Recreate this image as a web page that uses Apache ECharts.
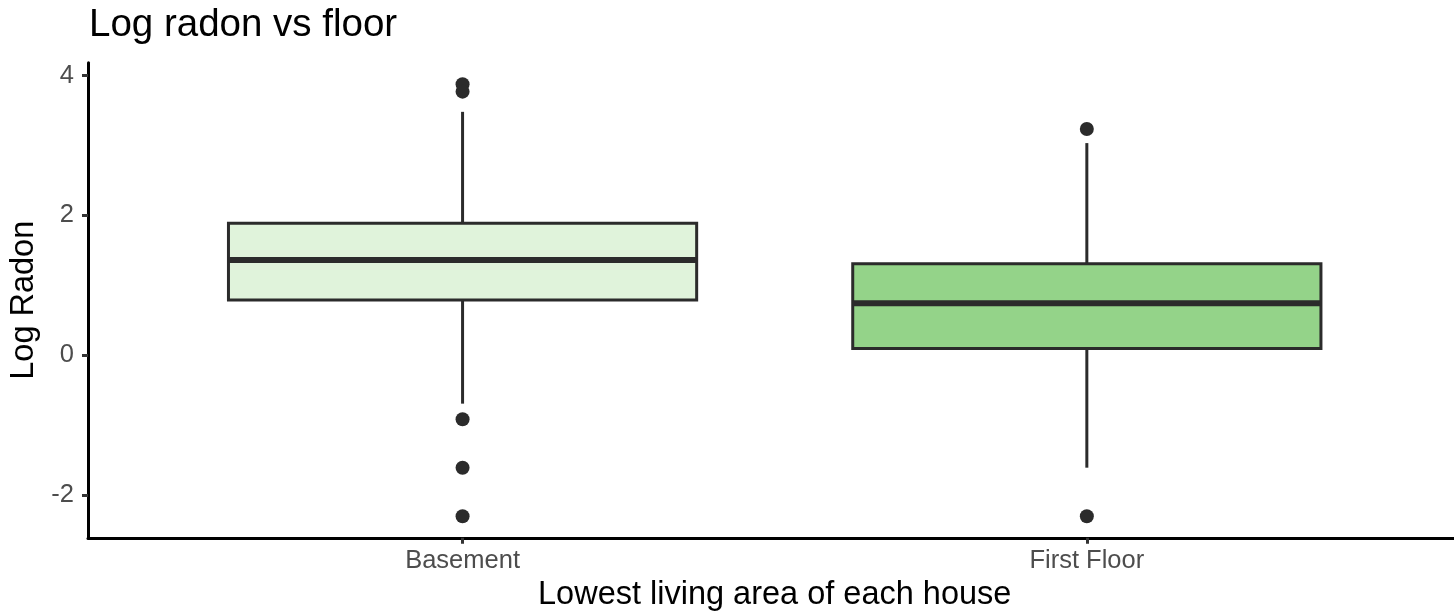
<!DOCTYPE html>
<html>
<head>
<meta charset="utf-8">
<title>Log radon vs floor</title>
<script src="https://cdn.jsdelivr.net/npm/echarts@6/dist/echarts.min.js"></script>
<style>
  html, body { margin: 0; padding: 0; background: #ffffff; }
  #chart { width: 1454px; height: 613px; }
</style>
</head>
<body>
<div id="chart"></div>
<script>
// Floor categories, in axis order
const categories = ['Basement', 'First Floor'];

// Box statistics per floor: [lower whisker, Q1, median, Q3, upper whisker]
const basementStats = [-0.693, 0.788, 1.361, 1.887, 3.481];
const firstFloorStats = [-1.609, 0.095, 0.742, 1.308, 3.034];

// Outlying observations per floor
const basementOutliers = [3.875, 3.770, -0.916, -1.609, -2.303];
const firstFloorOutliers = [3.235, -2.303];

// Tick values on the vertical axis
const yTicks = [-2, 0, 2, 4];

const boxFills = ['#e0f3db', '#94d389'];
const lineColor = '#2b2b2b';
const fontFamily = '"Liberation Sans", Arial, Helvetica, sans-serif';

const statsByFloor = [basementStats, firstFloorStats];
const outliersByFloor = [basementOutliers, firstFloorOutliers];

// Positions on the x axis: category i sits at i + 1
const boxData = statsByFloor.map((s, i) => [i + 1].concat(s));
const outlierData = [];
outliersByFloor.forEach((vals, i) => {
  vals.forEach(v => outlierData.push([i + 1, v]));
});

function renderBox(params, api) {
  const x = api.value(0);
  const lo = api.value(1), q1 = api.value(2), med = api.value(3),
        q3 = api.value(4), hi = api.value(5);
  const halfW = api.size([0.75, 0])[0] / 2;
  const pLo = api.coord([x, lo]);
  const pQ1 = api.coord([x, q1]);
  const pMed = api.coord([x, med]);
  const pQ3 = api.coord([x, q3]);
  const pHi = api.coord([x, hi]);
  const cx = pMed[0];
  const lineStyle = { stroke: lineColor, lineWidth: 3, fill: null };
  return {
    type: 'group',
    children: [
      { type: 'line', shape: { x1: cx, y1: pQ3[1], x2: cx, y2: pHi[1] }, style: lineStyle },
      { type: 'line', shape: { x1: cx, y1: pQ1[1], x2: cx, y2: pLo[1] }, style: lineStyle },
      {
        type: 'rect',
        shape: { x: cx - halfW, y: pQ3[1], width: halfW * 2, height: pQ1[1] - pQ3[1] },
        style: { fill: boxFills[params.dataIndex], stroke: lineColor, lineWidth: 3 }
      },
      { type: 'line', shape: { x1: cx - halfW, y1: pMed[1], x2: cx + halfW, y2: pMed[1] },
        style: { stroke: lineColor, lineWidth: 6 } }
    ]
  };
}

const chart = echarts.init(document.getElementById('chart'), null, { renderer: 'canvas' });

chart.setOption({
  animation: false,
  backgroundColor: '#ffffff',
  title: {
    text: 'Log radon vs floor',
    left: 84,
    top: 1,
    textStyle: { fontFamily: fontFamily, fontSize: 38.5, fontWeight: 'normal', color: '#000000' }
  },
  grid: {
    left: 88, right: -7.4, top: 62.7, bottom: 75.2,
    containLabel: false,
    outerBoundsMode: 'none'
  },
  xAxis: {
    type: 'value',
    min: 0.4,
    max: 2.6,
    name: 'Lowest living area of each house',
    nameLocation: 'middle',
    nameGap: 31,
    nameTextStyle: { fontFamily: fontFamily, fontSize: 32.5, color: '#000000' },
    splitLine: { show: false },
    axisLine: { show: true, onZero: false, lineStyle: { color: '#000000', width: 3 } },
    axisTick: { show: true, length: 6, customValues: [1, 2], lineStyle: { color: '#333333', width: 3 } },
    axisLabel: {
      customValues: [1, 2],
      margin: 10,
      fontFamily: fontFamily,
      fontSize: 25.5,
      color: '#4d4d4d',
      formatter: v => categories[Math.round(v) - 1] || ''
    }
  },
  yAxis: {
    type: 'value',
    min: -2.612,
    max: 4.184,
    name: 'Log Radon',
    nameLocation: 'middle',
    nameGap: 43,
    nameTextStyle: { fontFamily: fontFamily, fontSize: 32.5, color: '#000000' },
    splitLine: { show: false },
    axisLine: { show: true, onZero: false, lineStyle: { color: '#000000', width: 3 } },
    axisTick: { show: true, length: 6, customValues: yTicks, lineStyle: { color: '#333333', width: 3 } },
    axisLabel: {
      customValues: yTicks,
      margin: 14,
      fontFamily: fontFamily,
      fontSize: 25.5,
      color: '#4d4d4d'
    }
  },
  series: [
    {
      type: 'scatter',
      data: outlierData,
      symbol: 'circle',
      symbolSize: 14,
      itemStyle: { color: lineColor, opacity: 1 },
      z: 2
    },
    {
      type: 'custom',
      data: boxData,
      renderItem: renderBox,
      encode: { x: 0, y: [1, 2, 3, 4, 5] },
      z: 3
    }
  ]
});
</script>
</body>
</html>
